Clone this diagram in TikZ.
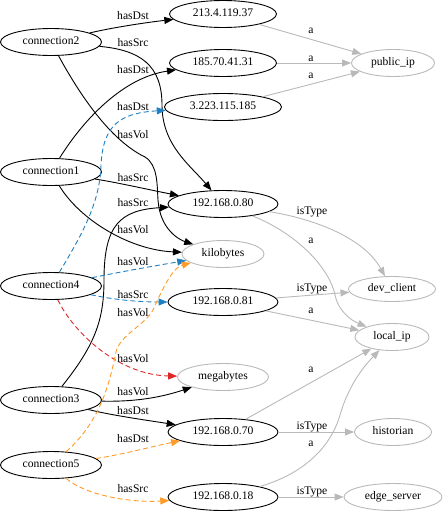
\documentclass[tikz,border=0pt]{standalone}
\usepackage{fontspec}
\setmainfont{Liberation Serif}
\usetikzlibrary{shapes.geometric,arrows.meta}
\definecolor{eblue}{RGB}{30,128,195}
\definecolor{eorange}{RGB}{255,155,40}
\definecolor{ered}{RGB}{220,40,40}
\definecolor{egray}{RGB}{185,185,185}
\tikzset{
  base/.style={ellipse, draw, line width=0.9pt, inner sep=0pt, minimum height=27pt,
    font=\fontsize{11.6}{13}\selectfont, text height=8pt, text depth=2.5pt},
  dk/.style={base, draw=black},
  gy/.style={base, draw=egray},
  lbl/.style={font=\fontsize{11.6}{13}\selectfont, inner sep=0pt, text height=8pt, text depth=2.5pt},
  edge/.style={line width=0.9pt},
  blk/.style={edge, draw=black, -{Triangle[length=9pt,width=7pt,fill=black]}},
  blu/.style={edge, draw=eblue, dash pattern=on 5pt off 3pt, -{Triangle[length=9pt,width=7pt,fill=eblue]}},
  org/.style={edge, draw=eorange, dash pattern=on 5pt off 3pt, -{Triangle[length=9pt,width=7pt,fill=eorange]}},
  rd/.style={edge, draw=ered, dash pattern=on 5pt off 3pt, -{Triangle[length=9pt,width=7pt,fill=ered]}},
  gr/.style={edge, draw=egray, -{Triangle[length=9pt,width=7pt,fill=egray]}},
}
\begin{document}
\begin{tikzpicture}[x=1pt,y=-1pt]
\useasboundingbox (0,0) rectangle (444,512);
% nodes
\node[dk, minimum width=101pt] (c2) at (51,42) {connection2};
\node[dk, minimum width=107pt] (ip213) at (223,14) {213.4.119.37};
\node[dk, minimum width=107pt] (ip185) at (223,63) {185.70.41.31};
\node[dk, minimum width=117pt] (ip3) at (223,107) {3.223.115.185};
\node[gy, minimum width=83pt] (pub) at (393,63) {public\_ip};
\node[dk, minimum width=101pt] (c1) at (51,172) {connection1};
\node[dk, minimum width=110pt] (ip80) at (223,204) {192.168.0.80};
\node[gy, minimum width=82pt] (kb) at (223,254) {kilobytes};
\node[dk, minimum width=101pt] (c4) at (51,286) {connection4};
\node[dk, minimum width=110pt] (ip81) at (223,302) {192.168.0.81};
\node[gy, minimum width=87pt, minimum height=25pt] (dev) at (392,289) {dev\_client};
\node[gy, minimum width=74pt] (loc) at (392,337) {local\_ip};
\node[gy, minimum width=91pt] (mb) at (223,377) {megabytes};
\node[dk, minimum width=101pt] (c3) at (51,400) {connection3};
\node[dk, minimum width=110pt] (ip70) at (223,432) {192.168.0.70};
\node[gy, minimum width=77pt] (hist) at (393,432) {historian};
\node[dk, minimum width=101pt] (c5) at (51,465) {connection5};
\node[dk, minimum width=110pt] (ip18) at (223,497) {192.168.0.18};
\node[gy, minimum width=98pt] (edgesrv) at (393,497) {edge\_server};

% black edges
\draw[blk] (c2) .. controls (115,27) and (150,22) .. (ip213);
\draw[blk] (c2) .. controls (140,50) and (162,65) .. (162,105) .. controls (162,145) and (190,165) .. (ip80);
\draw[blk] (c2) .. controls (80,95) and (110,140) .. (145,157) .. controls (158,165) and (157,185) .. (158,200) .. controls (160,230) and (180,240) .. (kb);
\draw[blk] (c1) .. controls (80,125) and (120,78) .. (ip185);
\draw[blk] (c1) .. controls (120,183) and (150,190) .. (ip80);
\draw[blk] (c1) .. controls (80,220) and (130,250) .. (kb);
\draw[blk] (c3) .. controls (95,345) and (104,320) .. (104,280) .. controls (104,225) and (120,210) .. (ip80);
\draw[blk] (c3) .. controls (140,402) and (165,396) .. (mb);
\draw[blk] (c3) .. controls (110,415) and (145,420) .. (ip70);

% blue edges
\draw[blu] (c4) .. controls (85,230) and (100,200) .. (101,165) .. controls (103,125) and (120,113) .. (ip3);
\draw[blu] (c4) .. controls (130,270) and (160,265) .. (kb);
\draw[blu] (c4) .. controls (115,300) and (140,302) .. (ip81);

% red edge
\draw[rd] (c4) .. controls (75,335) and (120,375) .. (mb);

% orange edges
\draw[org] (c5) .. controls (102,420) and (110,380) .. (116,352) .. controls (120,335) and (145,325) .. (153,310) .. controls (162,290) and (172,268) .. (kb);
\draw[org] (c5) .. controls (120,455) and (150,447) .. (ip70);
\draw[org] (c5) .. controls (85,495) and (130,503) .. (ip18);

% gray edges
\draw[gr] (ip213) -- (pub);
\draw[gr] (ip185) -- (pub);
\draw[gr] (ip3) -- (pub);
\draw[gr] (ip80) .. controls (320,220) and (365,240) .. (dev);
\draw[gr] (ip80) .. controls (300,235) and (330,270) .. (335,295) .. controls (338,310) and (350,320) .. (loc);
\draw[gr] (ip81) -- (dev);
\draw[gr] (ip81) -- (loc);
\draw[gr] (ip70) -- (loc);
\draw[gr] (ip70) -- (hist);
\draw[gr] (ip18) .. controls (300,475) and (330,450) .. (340,415) .. controls (350,380) and (370,360) .. (loc);
\draw[gr] (ip18) -- (edgesrv);

% edge labels
\node[lbl] (l1) at (133,17) {hasDst};
\node[lbl] (l2) at (133,44) {hasSrc};
\node[lbl] (l3) at (133,71) {hasDst};
\node[lbl] (l4) at (133,108) {hasDst};
\node[lbl] (l5) at (133,136) {hasVol};
\node[lbl] (l6) at (133,179) {hasSrc};
\node[lbl] (l7) at (133,204) {hasSrc};
\node[lbl] (l8) at (133,231) {hasVol};
\node[lbl] (l9) at (133,263) {hasVol};
\node[lbl] (l10) at (133,296) {hasSrc};
\node[lbl] (l11) at (133,314) {hasVol};
\node[lbl] (l12) at (133,360) {hasVol};
\node[lbl] (l13) at (133,393) {hasVol};
\node[lbl] (l14) at (133,412) {hasDst};
\node[lbl] (l15) at (133,440) {hasDst};
\node[lbl] (l16) at (133,490) {hasSrc};

\node[lbl] (r1) at (311,31) {a};
\node[lbl] (r2) at (311,59) {a};
\node[lbl] (r3) at (311,76) {a};
\node[lbl] (r4) at (312,212) {isType};
\node[lbl] (r5) at (311,241) {a};
\node[lbl] (r6) at (312,289) {isType};
\node[lbl] (r7) at (311,311) {a};
\node[lbl] (r8) at (311,370) {a};
\node[lbl] (r9) at (312,427) {isType};
\node[lbl] (r10) at (311,444) {a};
\node[lbl] (r11) at (312,492) {isType};
\end{tikzpicture}
\end{document}
